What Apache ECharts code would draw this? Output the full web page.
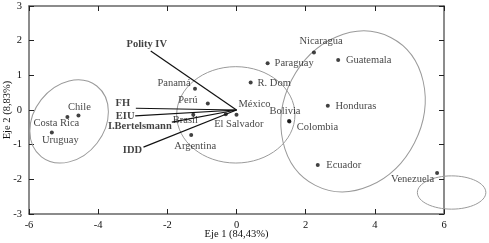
<!DOCTYPE html>
<html>
<head>
<meta charset="utf-8">
<script src="https://cdn.jsdelivr.net/npm/echarts@6/dist/echarts.min.js"></script>
<style>
  html, body { margin: 0; padding: 0; background: #fff; }
  #biplot { width: 489px; height: 243px; }
</style>
</head>
<body>
<div id="biplot"></div>
<script>
// paises (puntos)
const countries = ['Chile', 'Costa Rica', 'Uruguay', 'Panamá', 'Perú', 'Brasil', 'Argentina', 'México',
  'El Salvador', 'R. Dom', 'Paraguay', 'Nicaragua', 'Guatemala', 'Honduras', 'Bolivia', 'Colombia',
  'Ecuador', 'Venezuela'];
const eje1 = [-4.57, -4.89, -5.34, -1.20, -0.83, -1.25, -1.31, 0.00, -0.31, 0.41, 0.90, 2.24, 2.94, 2.64, 1.52, 1.53, 2.35, 5.80];
const eje2 = [-0.16, -0.20, -0.65, 0.61, 0.19, -0.14, -0.72, -0.14, -0.12, 0.79, 1.35, 1.66, 1.44, 0.12, -0.32, -0.33, -1.59, -1.82];

// indices (vectores desde el origen)
const indices = ['Polity IV', 'FH', 'EIU', 'I.Bertelsmann', 'IDD'];
const vecX = [-2.48, -2.91, -2.93, -1.87, -2.69];
const vecY = [1.70, 0.05, -0.17, -0.35, -1.07];

// grupos (elipses): centro, semiejes, giro en grados
const ellX = [-4.84, -0.02, 3.37, 6.22];
const ellY = [-0.33, -0.14, -0.04, -2.38];
const ellRx = [1.30, 1.71, 2.40, 0.99];
const ellRy = [1.02, 1.39, 1.99, 0.48];
const ellRot = [52, 0, 63, 0];

// ticks
const xTicks = [-6, -4, -2, 0, 2, 4, 6];
const yTicks = [-3, -2, -1, 0, 1, 2, 3];

// desplazamiento de etiquetas (px)
const labelOffset = {
  'Chile': [1, -8], 'Costa Rica': [-11, 6], 'Uruguay': [8.5, 7.5], 'Panamá': [-21, -6],
  'Perú': [-20, -3], 'Brasil': [-8, 5], 'Argentina': [4, 11], 'México': [18, -11],
  'El Salvador': [13, 10], 'R. Dom': [23.5, 0.5], 'Paraguay': [26.5, 0.5], 'Nicaragua': [7, -11.5],
  'Guatemala': [30.5, 0], 'Honduras': [28, 0.5], 'Bolivia': [-4, -9.5], 'Colombia': [28, 6],
  'Ecuador': [26, 0], 'Venezuela': [-24.5, 6],
  'Polity IV': [-4, -7], 'FH': [-13, -5], 'EIU': [-10, 0], 'I.Bertelsmann': [-32, 4.5], 'IDD': [-11, 3]
};

const font = 'Liberation Serif';
const chart = echarts.init(document.getElementById('biplot'));

function axisBase(extra) {
  return Object.assign({
    type: 'value',
    axisLine: { show: true, onZero: false, lineStyle: { color: '#666', width: 1.5 } },
    axisTick: { show: true, inside: true, length: 5, lineStyle: { color: '#222', width: 1 } },
    splitLine: { show: false },
    axisLabel: { show: false }
  }, extra);
}

const xOpt = { min: xTicks[0], max: xTicks[xTicks.length - 1], interval: 2 };
const yOpt = { min: yTicks[0], max: yTicks[yTicks.length - 1], interval: 1 };

const vectorSeries = indices.map((name, i) => ({
  type: 'line',
  silent: true,
  symbol: 'none',
  lineStyle: { color: '#111', width: 1.2 },
  data: [[0, 0], [vecX[i], vecY[i]]],
  z: 3
}));

const option = {
  animation: false,
  grid: { left: 29, right: 45, top: 6, bottom: 29, containLabel: false, outerBoundsMode: 'none' },
  xAxis: [
    axisBase(Object.assign({
      position: 'bottom',
      name: 'Eje 1 (84,43%)',
      nameLocation: 'middle',
      nameGap: 15,
      nameMoveOverlap: false,
      nameTextStyle: { fontFamily: font, fontSize: 10.5, color: '#111' },
      axisLabel: { show: true, margin: 6, fontFamily: font, fontSize: 10.5, color: '#111' }
    }, xOpt)),
    axisBase(Object.assign({ position: 'top' }, xOpt))
  ],
  yAxis: [
    axisBase(Object.assign({
      position: 'left',
      name: 'Eje 2 (8,83%)',
      nameLocation: 'middle',
      nameGap: 16,
      nameMoveOverlap: false,
      nameTextStyle: { fontFamily: font, fontSize: 10.5, color: '#111' },
      axisLabel: { show: true, margin: 7, fontFamily: font, fontSize: 10.5, color: '#111' }
    }, yOpt)),
    axisBase(Object.assign({ position: 'right' }, yOpt))
  ],
  series: [
    {
      type: 'custom',
      silent: true,
      clip: false,
      data: ellX.map((x, i) => [x, ellY[i], ellRx[i], ellRy[i], ellRot[i]]),
      encode: { x: 0, y: 1 },
      renderItem: function (params, api) {
        const c = api.coord([api.value(0), api.value(1)]);
        const s = api.size([api.value(2), api.value(3)]);
        return {
          type: 'ellipse',
          x: c[0],
          y: c[1],
          rotation: api.value(4) * Math.PI / 180,
          shape: { cx: 0, cy: 0, rx: s[0], ry: s[1] },
          style: { fill: null, stroke: '#9a9a9a', lineWidth: 1 }
        };
      },
      z: 1
    },
    ...vectorSeries,
    {
      type: 'scatter',
      silent: true,
      symbolSize: 1,
      itemStyle: { color: 'transparent' },
      data: indices.map((name, i) => ({
        name: name,
        value: [vecX[i], vecY[i]],
        label: { offset: labelOffset[name] }
      })),
      label: {
        show: true,
        position: 'inside',
        formatter: '{b}',
        fontFamily: font,
        fontSize: 10.5,
        fontWeight: 'bold',
        color: '#111'
      },
      z: 4
    },
    {
      type: 'scatter',
      silent: true,
      symbol: 'circle',
      symbolSize: 4,
      itemStyle: { color: '#111' },
      data: countries.map((name, i) => ({
        name: name,
        value: [eje1[i], eje2[i]],
        label: { offset: labelOffset[name] }
      })),
      label: {
        show: true,
        position: 'inside',
        formatter: '{b}',
        fontFamily: font,
        fontSize: 10.5,
        color: '#111'
      },
      z: 5
    }
  ]
};

chart.setOption(option);
</script>
</body>
</html>
